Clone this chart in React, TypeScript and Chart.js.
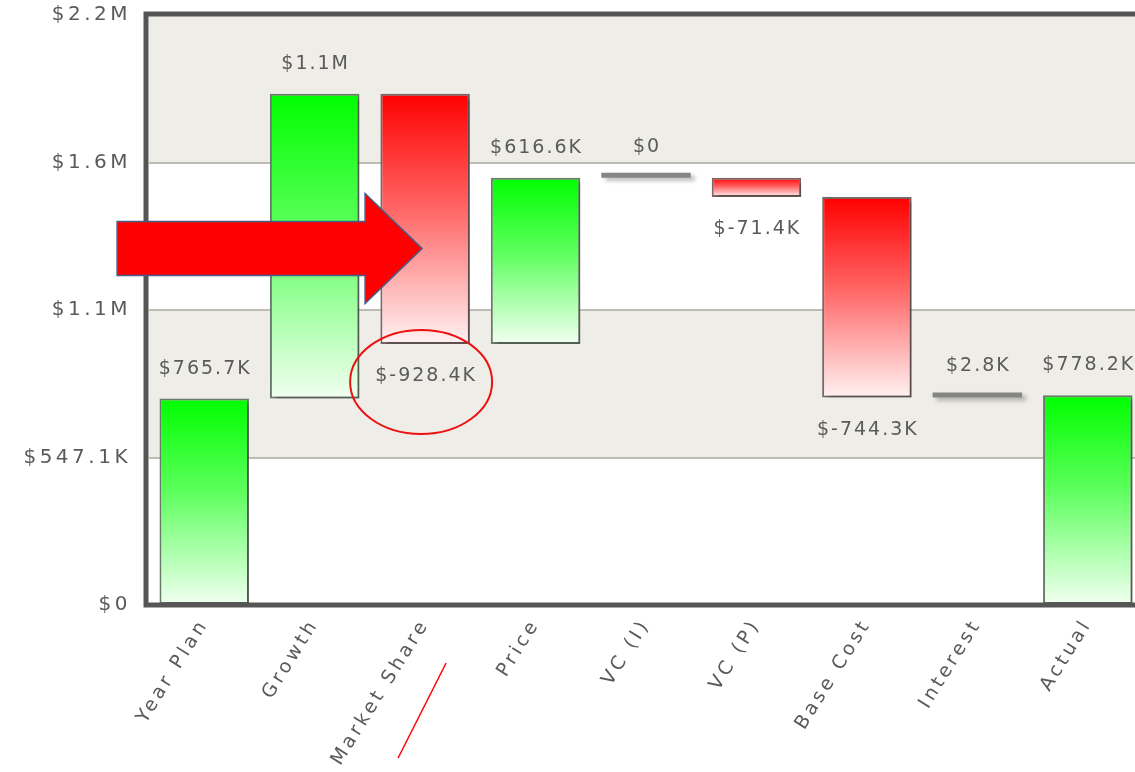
import React, { useEffect, useRef } from 'react';
import { Chart, registerables } from 'chart.js';

Chart.register(...registerables);

// ---- data (values in thousands of $) ----
const categories = ['Year Plan', 'Growth', 'Market Share', 'Price', 'VC (I)', 'VC (P)', 'Base Cost', 'Interest', 'Actual'];
const changes = [765.7, 1131, -928.4, 616.6, 0, -71.4, -744.3, 2.8, 778.2];
const isTotal = [true, false, false, false, false, false, false, false, true];
const valueLabels = ['$765.7K', '$1.1M', '$-928.4K', '$616.6K', '$0', '$-71.4K', '$-744.3K', '$2.8K', '$778.2K'];
const yTickValues = [0, 547.1, 1094.2, 1641.3, 2188.4];
const yTickLabels = ['$0', '$547.1K', '$1.1M', '$1.6M', '$2.2M'];

function buildRanges(): [number, number][] {
  let run = 0;
  return changes.map((c, i) => {
    if (isTotal[i]) {
      run = c;
      return [0, c] as [number, number];
    }
    const s = run;
    run += c;
    return [s, run] as [number, number];
  });
}

const FONT = '"DejaVu Sans", Verdana, sans-serif';
const TEXT = '#5a5a5a';

export default function App() {
  const ref = useRef<HTMLCanvasElement | null>(null);

  useEffect(() => {
    const canvas = ref.current;
    if (!canvas) return;
    const ranges = buildRanges();

    const isFlat = (i: number) => !isTotal[i] && Math.abs(changes[i]) < 10;
    const isUp = (i: number) => isTotal[i] || changes[i] >= 0;

    const bg = (ctx: any) => {
      const i = ctx.dataIndex;
      if (isFlat(i)) return '#858585';
      const chart = ctx.chart;
      const ys = chart.scales?.y;
      if (!chart.chartArea || !ys) return isUp(i) ? '#00ff00' : '#ff0000';
      const r = ranges[i];
      const top = ys.getPixelForValue(Math.max(r[0], r[1]));
      const bot = ys.getPixelForValue(Math.min(r[0], r[1]));
      const g = chart.ctx.createLinearGradient(0, top, 0, Math.max(bot, top + 1));
      if (isUp(i)) {
        g.addColorStop(0, '#00ff00');
        g.addColorStop(0.45, '#5dff5d');
        g.addColorStop(1, '#f2fff2');
      } else {
        g.addColorStop(0, '#ff0000');
        g.addColorStop(0.45, '#ff6363');
        g.addColorStop(1, '#fff2f2');
      }
      return g;
    };

    const bandsPlugin = {
      id: 'bands',
      beforeDraw(chart: any) {
        const { ctx, chartArea } = chart;
        const ys = chart.scales.y;
        (ctx as any).letterSpacing = '3.5px';
        ctx.save();
        ctx.fillStyle = '#ffffff';
        ctx.fillRect(0, 0, chart.width, chart.height);
        ctx.fillStyle = '#eeede7';
        for (const [a, b] of [[1, 2], [3, 4]]) {
          const y1 = ys.getPixelForValue(yTickValues[b]);
          const y2 = ys.getPixelForValue(yTickValues[a]);
          ctx.fillRect(chartArea.left, y1, chartArea.right - chartArea.left, y2 - y1);
        }
        ctx.restore();
      },
      beforeDatasetsDraw(chart: any) {
        const ctx = chart.ctx;
        ctx.save();
        ctx.shadowColor = 'rgba(0,0,0,0.28)';
        ctx.shadowOffsetX = 4;
        ctx.shadowOffsetY = 3;
        ctx.shadowBlur = 4;
      },
      afterDatasetsDraw(chart: any) {
        chart.ctx.restore();
      },
      afterDraw(chart: any) {
        const { ctx, chartArea } = chart;
        const xs = chart.scales.x;
        const ys = chart.scales.y;
        ctx.save();
        // frame
        ctx.strokeStyle = '#555555';
        ctx.lineWidth = 5;
        ctx.beginPath();
        ctx.moveTo(chartArea.right + 10, chartArea.top - 1);
        ctx.lineTo(chartArea.left - 3, chartArea.top - 1);
        ctx.lineTo(chartArea.left - 3, chartArea.bottom);
        ctx.lineTo(chartArea.right + 10, chartArea.bottom);
        ctx.stroke();

        // value labels
        (ctx as any).letterSpacing = '2px';
        ctx.font = `19px ${FONT}`;
        ctx.fillStyle = TEXT;
        ctx.textAlign = 'center';
        ctx.textBaseline = 'middle';
        const labelPos: { x: number; y: number }[] = [];
        ranges.forEach((r, i) => {
          const x = xs.getPixelForValue(i) + 1;
          let y: number;
          if (isUp(i)) {
            y = ys.getPixelForValue(Math.max(r[0], r[1])) - 30;
            if (isFlat(i)) y -= 1;
          } else {
            y = ys.getPixelForValue(Math.min(r[0], r[1])) + 32;
          }
          labelPos.push({ x, y });
          ctx.fillText(valueLabels[i], x, y);
        });

        // annotation: arrow pointing at Market Share bar
        const msX = xs.getPixelForValue(2);
        const tipX = msX - 3;
        const tipY = ys.getPixelForValue(1322);
        const baseX = tipX - 57;
        const leftX = tipX - 305;
        ctx.beginPath();
        ctx.moveTo(leftX, tipY - 27);
        ctx.lineTo(baseX, tipY - 27);
        ctx.lineTo(baseX, tipY - 55);
        ctx.lineTo(tipX, tipY);
        ctx.lineTo(baseX, tipY + 55);
        ctx.lineTo(baseX, tipY + 27);
        ctx.lineTo(leftX, tipY + 27);
        ctx.closePath();
        ctx.fillStyle = '#ff0000';
        ctx.fill();
        ctx.strokeStyle = '#41618a';
        ctx.lineWidth = 1.5;
        ctx.stroke();

        // ellipse around Market Share value label
        const lp = labelPos[2];
        ctx.beginPath();
        ctx.ellipse(lp.x - 5, lp.y + 6, 71, 52, 0, 0, Math.PI * 2);
        ctx.strokeStyle = '#ee1111';
        ctx.lineWidth = 2;
        ctx.stroke();

        // slash under Market Share category label
        ctx.beginPath();
        ctx.moveTo(msX + 21, chartArea.bottom + 58);
        ctx.lineTo(msX - 27, chartArea.bottom + 153);
        ctx.strokeStyle = '#ff0000';
        ctx.lineWidth = 1.5;
        ctx.stroke();
        ctx.restore();
      },
    };

    const chart = new Chart(canvas, {
      type: 'bar',
      data: {
        labels: categories,
        datasets: [
          {
            data: ranges as any,
            backgroundColor: bg as any,
            borderColor: (ctx: any) => (isFlat(ctx.dataIndex) ? '#858585' : isUp(ctx.dataIndex) ? '#6a7a6a' : '#7a6666'),
            borderWidth: (ctx: any) => (isFlat(ctx.dataIndex) ? 0 : 2),
            borderSkipped: false,
            minBarLength: 5,
            barPercentage: 0.81,
            categoryPercentage: 1,
          },
        ],
      },
      options: {
        animation: false,
        responsive: false,
        maintainAspectRatio: false,
        layout: { padding: { top: 15, left: 0, right: 0, bottom: 0 } },
        plugins: { legend: { display: false }, tooltip: { enabled: false } },
        scales: {
          x: {
            type: 'category',
            grid: { display: false, drawTicks: false },
            border: { display: false },
            afterFit: (s: any) => {
              s.height = 167;
              s.paddingLeft = 0;
              s.paddingRight = 0;
              s.paddingTop = 0;
              s.paddingBottom = 0;
            },
            ticks: {
              autoSkip: false,
              minRotation: 58,
              maxRotation: 58,
              padding: 10,
              color: TEXT,
              font: { family: FONT, size: 19 },
            },
          },
          y: {
            min: 0,
            max: yTickValues[yTickValues.length - 1],
            afterFit: (s: any) => {
              s.width = 149;
              s.paddingTop = 0;
              s.paddingBottom = 0;
              s.paddingLeft = 0;
              s.paddingRight = 0;
            },
            afterBuildTicks: (s: any) => {
              s.ticks = yTickValues.map((v) => ({ value: v }));
            },
            grid: {
              drawTicks: false,
              lineWidth: 2,
              color: (ctx: any) =>
                ctx.index === 0 || ctx.index === yTickValues.length - 1 ? 'rgba(0,0,0,0)' : '#bcbcb4',
            },
            border: { display: false },
            ticks: {
              padding: 18,
              color: TEXT,
              font: { family: FONT, size: 20 },
              callback: (_v: any, i: number) => yTickLabels[i],
            },
          },
        },
      },
      plugins: [bandsPlugin],
    });

    return () => chart.destroy();
  }, []);

  return (
    <div
      style={{
        position: 'absolute',
        left: 0,
        top: 0,
        width: 1135,
        height: 772,
        overflow: 'hidden',
        background: '#ffffff',
      }}
    >
      <canvas ref={ref} width={1143} height={772} style={{ display: 'block', width: 1143, height: 772 }} />
    </div>
  );
}
